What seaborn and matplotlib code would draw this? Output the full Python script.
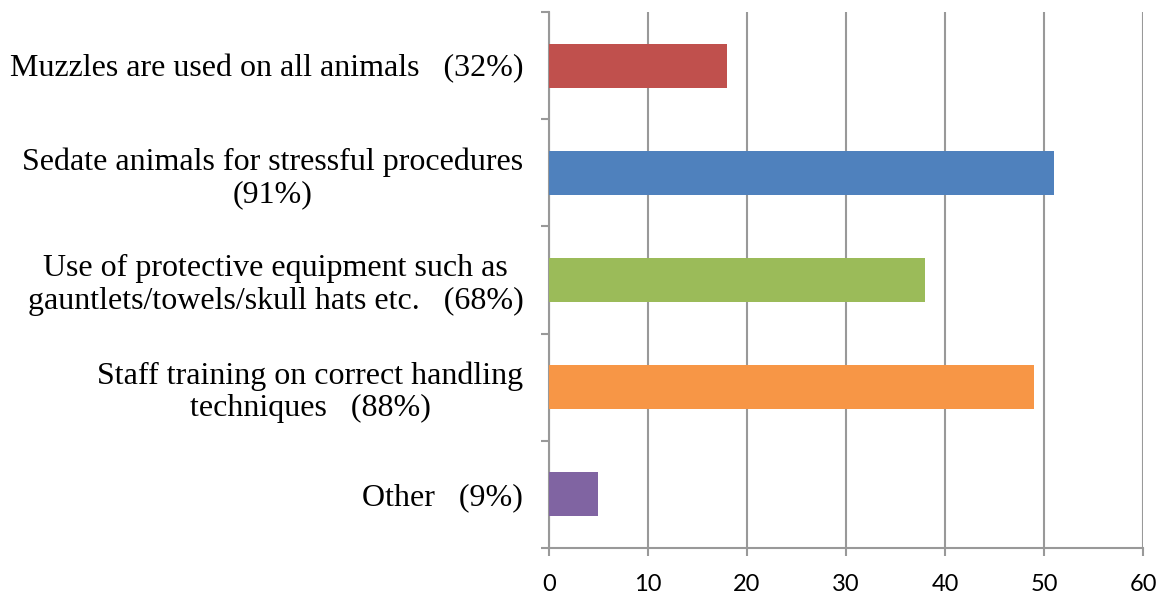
import matplotlib
matplotlib.use("Agg")
import matplotlib.pyplot as plt
import seaborn as sns
import pandas as pd
from matplotlib.ticker import FixedLocator

categories = [
    "Muzzles are used on all animals   (32%)",
    "Sedate animals for stressful procedures\n(91%)",
    "Use of protective equipment such as\ngauntlets/towels/skull hats etc.   (68%)",
    "Staff training on correct handling\ntechniques   (88%)",
    "Other   (9%)",
]
counts = [18, 51, 38, 49, 5]
bar_colors = ["#C0504D", "#4F81BD", "#9BBB59", "#F79646", "#8064A2"]
x_ticks = [0, 10, 20, 30, 40, 50, 60]

sns.set_theme(style="white")
plt.rcParams["font.family"] = ["Liberation Serif", "DejaVu Serif"]

df = pd.DataFrame({"category": categories, "count": counts})

fig = plt.figure(figsize=(11.68, 5.96), dpi=100)
ax = fig.add_axes([0.470, 0.0805, 0.5086, 0.8995])

sns.barplot(data=df, y="category", x="count", hue="category",
            palette=bar_colors, orient="h", width=0.41, saturation=1,
            legend=False, ax=ax, zorder=3, linewidth=0)

ax.set_xlim(0, 60)
ax.set_ylim(4.5, -0.5)
ax.set_xlabel("")
ax.set_ylabel("")

grid_col = "#999999"
ax.set_xticks(x_ticks)
ax.xaxis.grid(True, color=grid_col, linewidth=1.5, zorder=0)
ax.yaxis.grid(False)

for side in ["top", "right"]:
    ax.spines[side].set_visible(False)
for side in ["left", "bottom"]:
    ax.spines[side].set_color(grid_col)
    ax.spines[side].set_linewidth(1.5)

# category boundary ticks on the left axis
ax.yaxis.set_minor_locator(FixedLocator([i - 0.5 for i in range(len(categories) + 1)]))
ax.tick_params(axis="y", which="minor", left=True, length=6, width=1.5, color=grid_col)
ax.tick_params(axis="y", which="major", left=False, length=0, pad=18.5)
ax.tick_params(axis="x", which="major", bottom=True, length=6, width=1.5,
               color=grid_col, pad=13)

for lbl in ax.get_yticklabels():
    lbl.set_fontsize(23)
    lbl.set_multialignment("center")
    lbl.set_linespacing(1.15)
    lbl.set_color("black")
for lbl in ax.get_xticklabels():
    lbl.set_fontfamily(["Lato", "DejaVu Sans"])
    lbl.set_fontsize(17)
    lbl.set_color("black")

fig.savefig("out.png", dpi=100, facecolor="white")
